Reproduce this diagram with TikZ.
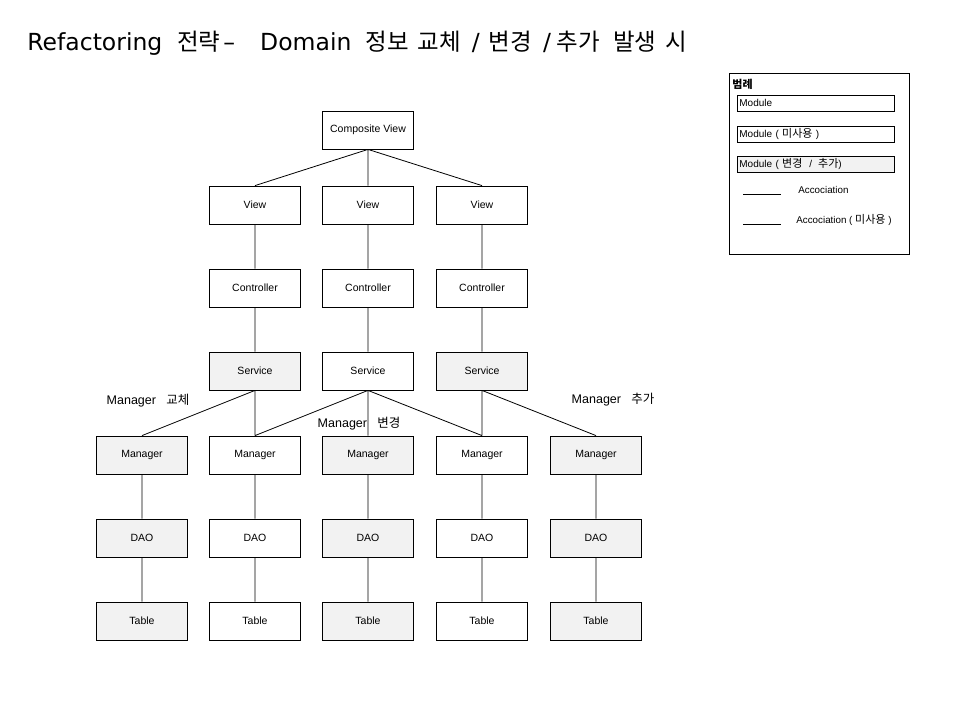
\documentclass[tikz,border=0pt]{standalone}
\usepackage{fontspec}
\setmainfont{Liberation Sans}
\newfontfamily\kr{Noto Sans CJK KR}
\newfontfamily\dejavu{DejaVu Sans}
\newcommand{\ko}[1]{{\kr #1}}
\newcommand{\kol}[1]{{\kr\fontsize{11}{12}\selectfont #1}}
\usetikzlibrary{positioning}

\tikzset{
  module/.style={draw, line width=0.8pt, minimum width=91pt, minimum height=38pt, inner sep=0pt, font=\fontsize{10.5}{12}\selectfont},
  modchg/.style={module, fill=black!5},
  legbox/.style={draw, line width=0.8pt, minimum width=157pt, minimum height=16pt, inner sep=2pt, anchor=west, text width=153pt, align=left, font=\fontsize{10}{12}\selectfont},
  note/.style={anchor=west, font=\fontsize{12.5}{14}\selectfont},
}

\begin{document}
\begin{tikzpicture}[x=1pt, y=-1pt, line width=0.8pt]
        \useasboundingbox (0,0) rectangle (960,720);

        \node [anchor=west, inner sep=0pt, font=\dejavu\fontsize{23.5}{26}\selectfont] (title) at (27,43)
            {Refactoring\ \ \ko{전략}\hspace{3pt}–\hspace{25pt}Domain\hspace{14pt}\ko{정보\hspace{9pt}교체}\hspace{11pt}/\hspace{9pt}\ko{변경}\hspace{11pt}/\hspace{6pt}\ko{추가\hspace{13pt}발생\hspace{9pt}시}};

        \node [module] (cv) at (368,130) {Composite View};

        \node [module] (v1) at (255,205) {View};
        \node [module] (v2) at (368,205) {View};
        \node [module] (v3) at (482,205) {View};

        \node [module] (c1) at (255,288) {Controller};
        \node [module] (c2) at (368,288) {Controller};
        \node [module] (c3) at (482,288) {Controller};

        \node [modchg] (s1) at (255,371) {Service};
        \node [module] (s2) at (368,371) {Service};
        \node [modchg] (s3) at (482,371) {Service};

        \node [modchg] (m1) at (142,455) {Manager};
        \node [module] (m2) at (255,455) {Manager};
        \node [modchg] (m3) at (368,455) {Manager};
        \node [module] (m4) at (482,455) {Manager};
        \node [modchg] (m5) at (596,455) {Manager};

        \node [modchg] (d1) at (142,538) {DAO};
        \node [module] (d2) at (255,538) {DAO};
        \node [modchg] (d3) at (368,538) {DAO};
        \node [module] (d4) at (482,538) {DAO};
        \node [modchg] (d5) at (596,538) {DAO};

        \node [modchg] (t1) at (142,621) {Table};
        \node [module] (t2) at (255,621) {Table};
        \node [modchg] (t3) at (368,621) {Table};
        \node [module] (t4) at (482,621) {Table};
        \node [modchg] (t5) at (596,621) {Table};

        \node [note] (n1) at (103,401) {Manager\ \ \ \ko{교체}};
        \node [note] (n2) at (314,424) {Manager\ \ \ \ko{변경}};
        \node [note] (n3) at (568,400) {Manager\ \ \ \ko{추가}};

    \draw
        (cv.south) -- (v1.north)
        (cv.south) -- (v2.north)
        (cv.south) -- (v3.north)

        (v1) -- (c1) (c1) -- (s1)
        (v2) -- (c2) (c2) -- (s2)
        (v3) -- (c3) (c3) -- (s3)

        (s1.south) -- (m1.north)
        (s1.south) -- (m2.north)
        (s2.south) -- (m2.north)
        (s2.south) -- (m3.north)
        (s2.south) -- (m4.north)
        (s3.south) -- (m4.north)
        (s3.south) -- (m5.north)

        (m1) -- (d1) (d1) -- (t1)
        (m2) -- (d2) (d2) -- (t2)
        (m3) -- (d3) (d3) -- (t3)
        (m4) -- (d4) (d4) -- (t4)
        (m5) -- (d5) (d5) -- (t5)
        ;

        % legend
        \node [draw, line width=0.8pt, minimum width=180pt, minimum height=181pt, anchor=north west, inner sep=0pt] (leg) at (729,73) {};
        \node [anchor=west, inner sep=0pt, font=\kr\bfseries\fontsize{11}{12}\selectfont] (legt) at (732,84) {범례};
        \node [legbox] (l1) at (737,103) {Module};
        \node [legbox] (l2) at (737,134) {Module ( \kol{미사용} )};
        \node [legbox, fill=black!5] (l3) at (737,164) {Module ( \kol{변경}\hspace{7pt}/\hspace{6pt}\kol{추가})};
        \coordinate (a1) at (743,194);
        \coordinate (b1) at (781,194);
        \coordinate (a2) at (743,224);
        \coordinate (b2) at (781,224);
        \draw (a1) -- (b1) (a2) -- (b2);
        \node [anchor=west, inner sep=0pt, font=\fontsize{9.8}{11}\selectfont] (la1) at (798,190) {Accociation};
        \node [anchor=west, inner sep=0pt, font=\fontsize{9.8}{11}\selectfont] (la2) at (796,220) {Accociation ( \kol{미사용} )};
    \end{tikzpicture}
\end{document}
